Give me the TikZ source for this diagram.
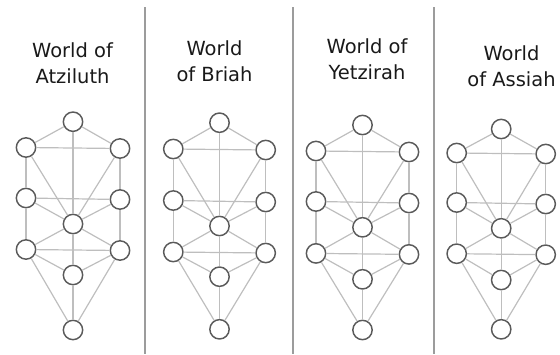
\documentclass[tikz,border=0pt]{standalone}
\usepackage{fontspec}
\setmainfont{DejaVu Sans}
\usetikzlibrary{positioning}

\definecolor{ringgray}{HTML}{5A5A5A}
\definecolor{pathgray}{HTML}{BEBEBE}
\definecolor{rulegray}{HTML}{9C9C9C}

\begin{document}
\begin{tikzpicture}[
    x=0.75pt, y=-0.75pt,
    sephira/.style={circle, draw=ringgray, fill=white, line width=1.1pt, minimum size=14.5pt, inner sep=0pt},
    pathline/.style={draw=pathgray, line width=0.9pt},
    divider/.style={draw=rulegray, line width=1.1pt},
    worldtitle/.style={align=center, font=\fontsize{14.6}{19.5}\selectfont, text=black!90}
    ]
    \useasboundingbox (0,0) rectangle (560,354);
    
    % titles
    \node[worldtitle] (atziluth) at (72.5,63) {World of\\Atziluth};
    \node[worldtitle] (briah) at (214.5,61.5) {World\\of Briah};
    \node[worldtitle] (yetzirah) at (367,59.5) {World of\\Yetzirah};
    \node[worldtitle] (assiah) at (511.5,66) {World\\of Assiah};
    
    % dividers
    \draw[divider] (145,7) -- (145,354);
    \draw[divider] (293,7) -- (293,354);
    \draw[divider] (434,7) -- (434,354);
    
    % the four trees
    \foreach \t/\cx/\hw/\yk/\yb/\yg/\yt/\yh/\yy/\ym in {
        1/73/47/121.7/147.5/198/224/249.5/275/330,
        2/219.5/46.2/122.7/149/200.5/226/252/276.7/329.3,
        3/362.5/46.5/125/151/201.5/227.3/253.4/279.3/330,
        4/501.2/44.5/129/153/202.5/228.3/253.7/280/329.3}{
        \node[sephira] (k\t) at (\cx,\yk) {};
        \node[sephira] (bi\t) at (\cx-\hw,\yb) {};
        \node[sephira] (ch\t) at (\cx+\hw,\yb+1) {};
        \node[sephira] (ge\t) at (\cx-\hw,\yg) {};
        \node[sephira] (he\t) at (\cx+\hw,\yg+1.5) {};
        \node[sephira] (ti\t) at (\cx,\yt) {};
        \node[sephira] (ho\t) at (\cx-\hw,\yh) {};
        \node[sephira] (ne\t) at (\cx+\hw,\yh+1) {};
        \node[sephira] (ye\t) at (\cx,\yy) {};
        \node[sephira] (ma\t) at (\cx,\ym) {};
        
        % paths
        \foreach \a/\b in {k/ch, k/bi, k/ti, ch/bi, ch/ti, ch/he, bi/ti, bi/ge,
            he/ge, he/ti, he/ne, ge/ti, ge/ho, ti/ne, ti/ye, ti/ho,
            ne/ho, ne/ye, ne/ma, ho/ye, ho/ma, ye/ma}
            \draw[pathline] (\a\t) -- (\b\t);
    }
\end{tikzpicture}
\end{document}
